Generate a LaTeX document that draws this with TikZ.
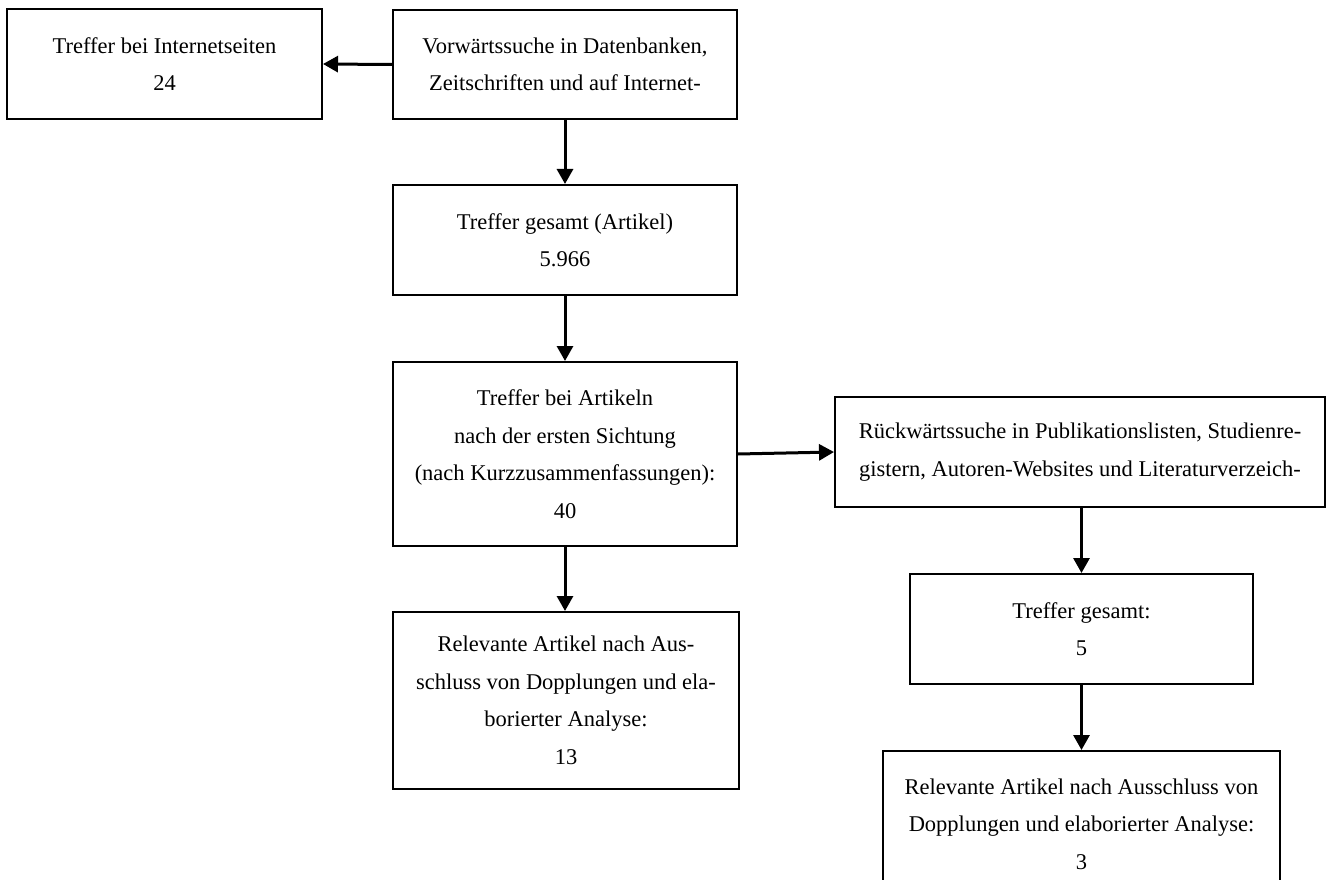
\documentclass[tikz,border=0pt]{standalone}
\usepackage{fontspec}
\setmainfont{Liberation Serif}
\usetikzlibrary{arrows.meta,positioning}

\begin{document}
\begin{tikzpicture}[x=1pt,y=-1pt,line join=miter]
\useasboundingbox[fill=white] (0,0) rectangle (1328,880);
\tikzset{stepbox/.style={draw=black,line width=2pt,fill=white,align=center,inner sep=0pt,font=\fontsize{22.5}{37.5}\selectfont},flow/.style={draw=black,line width=3pt,-{Triangle[length=15pt,width=16pt]}}}
% left column
\node[stepbox,minimum width=315pt,minimum height=110pt] (inet) at (164.5,64) {Treffer bei Internetseiten\\24};
\node[stepbox,minimum width=344pt,minimum height=109pt] (fwd) at (565,64.5) {Vorwärtssuche in Datenbanken,\\Zeitschriften und auf Internet-};
\node[stepbox,minimum width=344pt,minimum height=110pt] (total) at (565,240) {Treffer gesamt (Artikel)\\5.966};
\node[stepbox,minimum width=344pt,minimum height=184pt] (first) at (565,454) {Treffer bei Artikeln\\nach der ersten Sichtung\\(nach Kurzzusammenfassungen):\\40};
\node[stepbox,minimum width=346pt,minimum height=177pt] (relA) at (566,700.5) {Relevante Artikel nach Aus-\\schluss von Dopplungen und ela-\\borierter Analyse:\\13};
% right column
\node[stepbox,minimum width=490pt,minimum height=110pt] (back) at (1080,452) {Rückwärtssuche in Publikationslisten, Studienre-\\gistern, Autoren-Websites und Literaturverzeich-};
\node[stepbox,minimum width=343pt,minimum height=110pt] (totB) at (1081.5,629) {Treffer gesamt:\\5};
\node[stepbox,minimum width=397pt,minimum height=146pt] (relB) at (1081.5,824) {Relevante Artikel nach Ausschluss von\\Dopplungen und elaborierter Analyse:\\3};
% connectors
\draw[flow] (fwd.west) -- (inet.east);
\draw[flow] (fwd.south) -- (total.north);
\draw[flow] (total.south) -- (first.north);
\draw[flow] (first.south) -- (first.south |- relA.north);
\draw[flow] (first.east) -- (back.west);
\draw[flow] (totB.north |- back.south) -- (totB.north);
\draw[flow] (totB.south) -- (relB.north);
\end{tikzpicture}
\end{document}
